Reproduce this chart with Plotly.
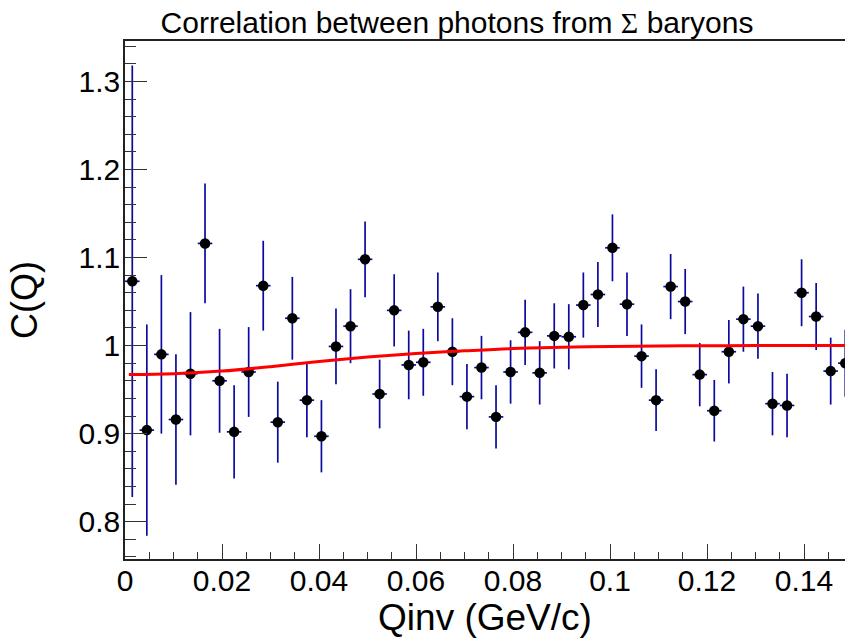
import plotly.graph_objects as go

# Bin centres (Qinv, GeV/c)
q_vals = [0.0015, 0.0045, 0.0075, 0.0105, 0.0135, 0.0165, 0.0195, 0.0225, 0.0255, 0.0285,
          0.0315, 0.0345, 0.0375, 0.0405, 0.0435, 0.0465, 0.0495, 0.0525, 0.0555, 0.0585,
          0.0615, 0.0645, 0.0675, 0.0705, 0.0735, 0.0765, 0.0795, 0.0825, 0.0855, 0.0885,
          0.0915, 0.0945, 0.0975, 0.1005, 0.1035, 0.1065, 0.1095, 0.1125, 0.1155, 0.1185,
          0.1215, 0.1245, 0.1275, 0.1305, 0.1335, 0.1365, 0.1395, 0.1425, 0.1455, 0.1485]

# Correlation values C(Q)
c_vals = [1.073, 0.904, 0.990, 0.916, 0.968, 1.116, 0.960, 0.902, 0.970, 1.068,
          0.913, 1.031, 0.938, 0.897, 0.999, 1.022, 1.098, 0.945, 1.040, 0.978,
          0.981, 1.044, 0.993, 0.942, 0.975, 0.919, 0.970, 1.015, 0.969, 1.011,
          1.010, 1.046, 1.058, 1.111, 1.047, 0.988, 0.938, 1.067, 1.050, 0.967,
          0.926, 0.993, 1.030, 1.022, 0.934, 0.932, 1.060, 1.033, 0.971, 0.980]

# Statistical errors on C(Q)
c_errs = [0.245, 0.120, 0.090, 0.074, 0.070, 0.068, 0.059, 0.053, 0.051, 0.051,
          0.046, 0.047, 0.042, 0.041, 0.043, 0.042, 0.043, 0.039, 0.041, 0.039,
          0.038, 0.039, 0.038, 0.037, 0.036, 0.036, 0.036, 0.037, 0.036, 0.037,
          0.037, 0.037, 0.037, 0.038, 0.036, 0.036, 0.035, 0.037, 0.037, 0.036,
          0.035, 0.036, 0.037, 0.037, 0.036, 0.036, 0.038, 0.038, 0.038, 0.038]

# Half bin width (horizontal error bars)
q_half = [0.0015] * len(q_vals)

# Fit curve
fit_q = [0.0008, 0.01, 0.02, 0.03, 0.04, 0.05, 0.06, 0.07, 0.08, 0.09,
         0.10, 0.11, 0.12, 0.13, 0.14, 0.1485]
fit_c = [0.967, 0.968, 0.971, 0.976, 0.982, 0.987, 0.991, 0.994, 0.9966, 0.998,
         0.999, 0.9996, 0.9998, 1.0, 1.0, 1.0]

x_ticks = [0, 0.02, 0.04, 0.06, 0.08, 0.1, 0.12, 0.14]
y_ticks = [0.8, 0.9, 1.0, 1.1, 1.2, 1.3]

FONT = "Liberation Sans, Arial, sans-serif"
ERR_COLOR = "#0a0a9e"

fig = go.Figure()

fig.add_trace(go.Scatter(
    x=q_vals, y=c_vals, mode="markers",
    marker=dict(symbol="circle", size=10.5, color="black"),
    error_y=dict(type="data", array=c_errs, width=0, thickness=1.7, color=ERR_COLOR),
    error_x=dict(type="data", array=q_half, width=0, thickness=1.7, color=ERR_COLOR),
    showlegend=False, cliponaxis=True,
))

fig.add_trace(go.Scatter(
    x=fit_q, y=fit_c, mode="lines",
    line=dict(color="#ff0000", width=3, shape="spline"),
    showlegend=False,
))

axis_common = dict(
    showgrid=False, zeroline=False, showline=True,
    linecolor="#222222", linewidth=1.5,
    ticks="inside", tickcolor="#333333", tickwidth=1.3,
    tickfont=dict(family=FONT, size=30, color="black"),
)

fig.update_xaxes(
    **axis_common,
    range=[0, 0.14845], mirror=True,
    tickmode="array", tickvals=x_ticks, ticklen=15, ticklabelstandoff=-6,
    minor=dict(ticks="inside", dtick=0.005, tick0=0, ticklen=7, tickcolor="#333333", tickwidth=1.3),
    title=dict(text="Qinv (GeV/c)", font=dict(family=FONT, size=37, color="black"), standoff=14),
)

fig.update_yaxes(
    **axis_common,
    range=[0.7576, 1.3459], mirror=False,
    tickmode="array", tickvals=y_ticks, ticklen=22, ticklabelstandoff=-3,
    minor=dict(ticks="inside", dtick=0.02, tick0=0.7, ticklen=11, tickcolor="#333333", tickwidth=1.3),
    title=dict(text="C(Q)", font=dict(family=FONT, size=36, color="black"), standoff=30),
)

fig.update_layout(
    width=845, height=638,
    margin=dict(l=125, r=0, t=41, b=79),
    paper_bgcolor="white", plot_bgcolor="white",
    title=dict(
        text='Correlation between photons from <span style="font-family:Liberation Serif">Σ</span> baryons',
        font=dict(family=FONT, size=30, color="black"),
        xref="container", x=457 / 845, xanchor="center",
        yref="container", y=1 - 22 / 638, yanchor="middle",
    ),
)

fig.write_html("out.html")
